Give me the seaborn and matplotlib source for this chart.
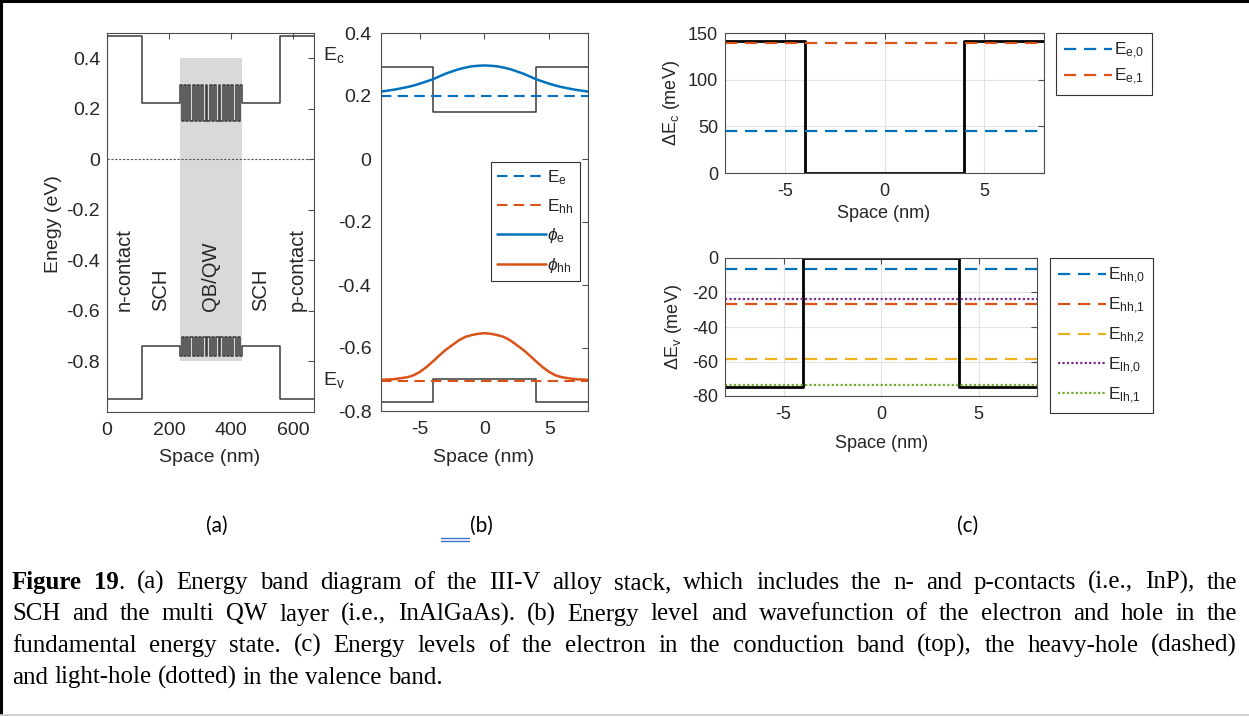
import numpy as np
import pandas as pd
import matplotlib
matplotlib.use("Agg")
import matplotlib.pyplot as plt
import seaborn as sns
from matplotlib.lines import Line2D

# ---------------- data ----------------
# (a) layer stack
stack_labels = ["n-contact", "SCH", "QB/QW", "SCH", "p-contact"]
stack_bounds_nm = [0, 113, 235, 435, 558, 668]
stack_ec_eV = [0.488, 0.222, None, 0.222, 0.488]
stack_ev_eV = [-0.948, -0.738, None, -0.738, -0.948]
qw_count = 14
qw_width_nm = 8.0
qb_width_nm = 5.87
qw_ec_eV, qb_ec_eV = 0.152, 0.296
qw_ev_eV, qb_ev_eV = -0.703, -0.780
shade_eV = (-0.8, 0.4)
a_xticks = [0, 200, 400, 600]
a_yticks = [-0.8, -0.6, -0.4, -0.2, 0, 0.2, 0.4]
a_yticklabels = ["-0.8", "-0.6", "-0.4", "-0.2", "0", "0.2", "0.4"]

# (b) single well, energy level and wavefunction
b_bounds_nm = [-8, -4, 4, 8]
b_ec_eV = [0.292, 0.150, 0.292]
b_ev_eV = [-0.772, -0.698, -0.772]
E_e_eV = 0.200
E_hh_eV = -0.704
psi_x_nm = [-8, -7.5, -7, -6.5, -6, -5.5, -5, -4.5, -4, -3.5, -3, -2.5, -2, -1.5, -1, -0.5, 0,
            0.5, 1, 1.5, 2, 2.5, 3, 3.5, 4, 4.5, 5, 5.5, 6, 6.5, 7, 7.5, 8]
phi_e = [0.214, 0.217, 0.220, 0.224, 0.228, 0.233, 0.239, 0.246, 0.253, 0.262, 0.271, 0.278,
         0.285, 0.290, 0.294, 0.296, 0.297,
         0.296, 0.294, 0.290, 0.285, 0.278, 0.271, 0.262, 0.253, 0.246, 0.239, 0.233, 0.228,
         0.224, 0.220, 0.217, 0.214]
phi_hh = [-0.701, -0.700, -0.699, -0.696, -0.693, -0.687, -0.676, -0.661, -0.643, -0.624,
          -0.606, -0.591, -0.576, -0.565, -0.559, -0.555, -0.553,
          -0.555, -0.559, -0.565, -0.576, -0.591, -0.606, -0.624, -0.643, -0.661, -0.676,
          -0.687, -0.693, -0.696, -0.699, -0.700, -0.701]
b_yticks = [-0.8, -0.6, -0.4, -0.2, 0, 0.2, 0.4]
b_yticklabels = ["-0.8", "-0.6", "-0.4", "-0.2", "0", "0.2", "0.4"]
b_xticks = [-5, 0, 5]

# (c) band offsets and confined levels (meV)
c_bounds_nm = [-8, -4, 4, 8]
dEc_meV = [141, 0, 141]
dEv_meV = [-74.5, 0, -74.5]
ce_levels = [45.5, 139.8]
ce_names = [r"E$_{\mathregular{e{,}0}}$", r"E$_{\mathregular{e{,}1}}$"]
cv_levels = [-6.4, -26.9, -58.4, -24.0, -73.6]
cv_names = [r"E$_{\mathregular{hh{,}0}}$", r"E$_{\mathregular{hh{,}1}}$",
            r"E$_{\mathregular{hh{,}2}}$", r"E$_{\mathregular{lh{,}0}}$",
            r"E$_{\mathregular{lh{,}1}}$"]
cv_kind = ["dashed", "dashed", "dashed", "dotted", "dotted"]
c_top_yticks = [0, 50, 100, 150]
c_bot_yticks = [-80, -60, -40, -20, 0]
c_xticks = [-5, 0, 5]

caption_lines = [
    "**Figure 19**. (a) Energy band diagram of the III-V alloy stack, which includes the n- and p-contacts (i.e., InP), the",
    "SCH and the multi QW layer (i.e., InAlGaAs). (b) Energy level and wavefunction of the electron and hole in the",
    "fundamental energy state. (c) Energy levels of the electron in the conduction band (top), the heavy-hole (dashed)",
    "and light-hole (dotted) in the valence band.",
]
panel_tags = ["(a)", "(b)", "(c)"]

# ---------------- style ----------------
BLUE, ORANGE, YELLOW, PURPLE, GREEN = "#0072BD", "#D95319", "#EDB120", "#7E2F8E", "#77AC30"
sns.set_theme(style="white")
plt.rcParams["font.family"] = ["Liberation Sans", "DejaVu Sans"]
plt.rcParams["mathtext.fontset"] = "custom"
plt.rcParams["mathtext.rm"] = "Liberation Sans"
plt.rcParams["mathtext.it"] = "Liberation Sans:italic"
plt.rcParams["axes.unicode_minus"] = False
TXT = "#262626"
SPINE = "#4d4d4d"

W, H = 1249, 717
fig = plt.figure(figsize=(W / 100, H / 100), dpi=100)
fig.patch.set_facecolor("white")


def rect(l, t, r, b):
    return [l / W, 1 - b / H, (r - l) / W, (b - t) / H]


def steps(bounds, values):
    xs, ys = [], []
    for i, v in enumerate(values):
        xs += [bounds[i], bounds[i + 1]]
        ys += [v, v]
    return xs, ys


def style_axes(ax, fs):
    for s in ax.spines.values():
        s.set_color(SPINE)
        s.set_linewidth(0.8)
        s.set_visible(True)
    ax.tick_params(direction="in", top=True, right=True, length=4, width=0.8,
                   color=SPINE, labelcolor=TXT, labelsize=fs)
    ax.tick_params(axis="x", pad=7)
    ax.tick_params(axis="y", pad=5)


def place_labels(ax, box, xl=None, yl=None):
    l, t, r, b = box
    if xl is not None:
        ax.xaxis.set_label_coords((xl[0] - l) / (r - l), (b - xl[1]) / (b - t))
        ax.xaxis.label.set_verticalalignment("center")
    if yl is not None:
        ax.yaxis.set_label_coords((yl[0] - l) / (r - l), (b - yl[1]) / (b - t))
        ax.yaxis.label.set_verticalalignment("center")


def line(ax, xs, ys, **kw):
    sns.lineplot(x=xs, y=ys, ax=ax, sort=False, estimator=None, legend=False, **kw)
    return ax.lines[-1]


def mat_legend(ax, handles, labels, px, py, spacing, pad):
    leg = ax.legend(handles, labels, loc="upper left", bbox_to_anchor=(px / W, 1 - py / H),
                    bbox_transform=fig.transFigure, borderaxespad=0, fontsize=12.5,
                    handlelength=2.8, handletextpad=0.1, labelspacing=spacing, borderpad=pad,
                    fancybox=False, framealpha=1, edgecolor="#333333")
    leg.get_frame().set_linewidth(0.8)
    for t in leg.get_texts():
        t.set_color(TXT)
    return leg


# ---------------- (a) ----------------
box_a = (107, 33, 314, 412)
ax_a = fig.add_axes(rect(*box_a))
qw_edges = [stack_bounds_nm[2]]
qw_ec_vals, qw_ev_vals = [], []
for k in range(2 * qw_count + 1):
    barrier = (k % 2 == 0)
    qw_edges.append(qw_edges[-1] + (qb_width_nm if barrier else qw_width_nm))
    qw_ec_vals.append(qb_ec_eV if barrier else qw_ec_eV)
    qw_ev_vals.append(qb_ev_eV if barrier else qw_ev_eV)
qw_edges[-1] = stack_bounds_nm[3]

ec_b = stack_bounds_nm[:3] + qw_edges[1:-1] + stack_bounds_nm[3:]
ec_v = stack_ec_eV[:2] + qw_ec_vals + stack_ec_eV[3:]
ev_v = stack_ev_eV[:2] + qw_ev_vals + stack_ev_eV[3:]

ax_a.fill_between([stack_bounds_nm[2], stack_bounds_nm[3]], shade_eV[0], shade_eV[1],
                  color="#d9d9d9", lw=0, zorder=0)
ax_a.axhline(0, color="#555555", lw=0.8, ls=(0, (2, 1.5)), zorder=1)
xs, ys = steps(ec_b, ec_v)
line(ax_a, xs, ys, color="#3a3a3a", lw=1.1)
xs, ys = steps(ec_b, ev_v)
line(ax_a, xs, ys, color="#3a3a3a", lw=1.1)
for i, lab in enumerate(stack_labels):
    xm = 0.5 * (stack_bounds_nm[i] + stack_bounds_nm[i + 1])
    ax_a.text(xm, -0.6, lab, rotation=90, ha="center", va="bottom", fontsize=14.5, color=TXT)
ax_a.set_xlim(stack_bounds_nm[0], stack_bounds_nm[-1])
ax_a.set_ylim(-1.0, 0.5)
ax_a.set_xticks(a_xticks)
ax_a.set_yticks(a_yticks)
ax_a.set_yticklabels(a_yticklabels)
style_axes(ax_a, 14)
ax_a.set_xlabel("Space (nm)", fontsize=14, color=TXT)
ax_a.set_ylabel("Enegy (eV)", fontsize=14, color=TXT)
place_labels(ax_a, box_a, xl=(210, 458), yl=(53, 224))

# ---------------- (b) ----------------
box_b = (381, 33, 588, 411)
ax_b = fig.add_axes(rect(*box_b))
xs, ys = steps(b_bounds_nm, b_ec_eV)
line(ax_b, xs, ys, color="#3a3a3a", lw=1.1)
xs, ys = steps(b_bounds_nm, b_ev_eV)
line(ax_b, xs, ys, color="#3a3a3a", lw=1.1)
h1 = line(ax_b, [b_bounds_nm[0], b_bounds_nm[-1]], [E_e_eV, E_e_eV], color=BLUE, lw=1.5,
          linestyle=(0, (5, 3)))
h2 = line(ax_b, [b_bounds_nm[0], b_bounds_nm[-1]], [E_hh_eV, E_hh_eV], color=ORANGE, lw=1.5,
          linestyle=(0, (5, 3)))
h3 = line(ax_b, psi_x_nm, phi_e, color=BLUE, lw=1.8)
h4 = line(ax_b, psi_x_nm, phi_hh, color=ORANGE, lw=1.8)
ax_b.set_xlim(-8, 8)
ax_b.set_ylim(-0.8, 0.4)
ax_b.set_xticks(b_xticks)
ax_b.set_xticklabels([str(v) for v in b_xticks])
ax_b.set_yticks(b_yticks)
ax_b.set_yticklabels(b_yticklabels)
style_axes(ax_b, 14)
ax_b.tick_params(axis="y", pad=7)
ax_b.set_xlabel("Space (nm)", fontsize=14, color=TXT)
place_labels(ax_b, box_b, xl=(484, 458))
mat_legend(ax_b, [h1, h2, h3, h4],
           [r"E$_{\mathregular{e}}$", r"E$_{\mathregular{hh}}$",
            r"$\phi_{\mathregular{e}}$", r"$\phi_{\mathregular{hh}}$"],
           491, 162, 0.6, 0.35)
fig.text(323 / W, 1 - 55 / H, r"E$_{\mathregular{c}}$", fontsize=14, color=TXT,
         ha="left", va="center")
fig.text(323 / W, 1 - 380 / H, r"E$_{\mathregular{v}}$", fontsize=14, color=TXT,
         ha="left", va="center")

# ---------------- (c) top ----------------
box_ct = (725, 33, 1044, 173)
ax_ct = fig.add_axes(rect(*box_ct))
ax_ct.grid(True, color="#e3e3e3", lw=0.8)
ax_ct.set_axisbelow(True)
xs, ys = steps(c_bounds_nm, dEc_meV)
line(ax_ct, xs, ys, color="black", lw=2.0)
hs = []
for lvl, col in zip(ce_levels, [BLUE, ORANGE]):
    hs.append(line(ax_ct, [c_bounds_nm[0], c_bounds_nm[-1]], [lvl, lvl], color=col, lw=1.6,
                   linestyle=(0, (5.5, 3.5))))
ax_ct.set_xlim(-8, 8)
ax_ct.set_ylim(0, 150)
ax_ct.set_xticks(c_xticks)
ax_ct.set_xticklabels([str(v) for v in c_xticks])
ax_ct.set_yticks(c_top_yticks)
style_axes(ax_ct, 13)
ax_ct.set_xlabel("Space (nm)", fontsize=13, color=TXT)
ax_ct.set_ylabel(r"ΔE$_{\mathregular{c}}$ (meV)", fontsize=13, color=TXT)
place_labels(ax_ct, box_ct, xl=(884, 214), yl=(672, 103))
mat_legend(ax_ct, hs, ce_names, 1056, 33, 0.35, 0.45)

# ---------------- (c) bottom ----------------
box_cb = (725, 258, 1037, 396)
ax_cb = fig.add_axes(rect(*box_cb))
ax_cb.grid(True, color="#e3e3e3", lw=0.8)
ax_cb.set_axisbelow(True)
xs, ys = steps(c_bounds_nm, dEv_meV)
line(ax_cb, xs, ys, color="black", lw=2.0)
hs = []
for lvl, col, kind in zip(cv_levels, [BLUE, ORANGE, YELLOW, PURPLE, GREEN], cv_kind):
    ls = (0, (5.5, 3.5)) if kind == "dashed" else (0, (1, 1))
    hs.append(line(ax_cb, [c_bounds_nm[0], c_bounds_nm[-1]], [lvl, lvl], color=col, lw=1.6,
                   linestyle=ls))
ax_cb.set_xlim(-8, 8)
ax_cb.set_ylim(-80, 0)
ax_cb.set_xticks(c_xticks)
ax_cb.set_xticklabels([str(v) for v in c_xticks])
ax_cb.set_yticks(c_bot_yticks)
ax_cb.set_yticklabels([str(v) for v in c_bot_yticks])
style_axes(ax_cb, 13)
ax_cb.set_xlabel("Space (nm)", fontsize=13, color=TXT)
ax_cb.set_ylabel(r"ΔE$_{\mathregular{v}}$ (meV)", fontsize=13, color=TXT)
place_labels(ax_cb, box_cb, xl=(882, 443), yl=(673, 327))
mat_legend(ax_cb, hs, cv_names, 1050, 258, 0.55, 0.45)

# ---------------- panel tags ----------------
for tag, px in zip(panel_tags, [217, 481, 968]):
    fig.text(px / W, 1 - 526 / H, tag, fontsize=15, family=["Lato", "DejaVu Sans"],
             color="black", ha="center", va="center")
for yy in [537.5, 540.5]:
    fig.add_artist(Line2D([441 / W, 469 / W], [1 - yy / H, 1 - yy / H], color="#4472C4",
                          lw=1.0, transform=fig.transFigure))

# ---------------- caption (justified) ----------------
renderer = fig.canvas.get_renderer()
CAP_L, CAP_R = 12, 1237
baselines = [589, 620.5, 652, 683.5]


def tokenize(s):
    words, cur, bold = [], [], False
    buf = ""
    i = 0
    while i < len(s):
        if s.startswith("**", i):
            if buf:
                cur.append((buf, bold)); buf = ""
            bold = not bold
            i += 2
            continue
        ch = s[i]
        if ch == " ":
            if buf:
                cur.append((buf, bold)); buf = ""
            if cur:
                words.append(cur); cur = []
        else:
            buf += ch
        i += 1
    if buf:
        cur.append((buf, bold))
    if cur:
        words.append(cur)
    return words


def measure(txt, bold, fs):
    t = fig.text(0, 0, txt, fontsize=fs, family=["Liberation Serif", "DejaVu Serif"],
                 fontweight="bold" if bold else "normal")
    w = t.get_window_extent(renderer).width
    t.remove()
    return w


tok_lines = [tokenize(s) for s in caption_lines]
base_fs = 12.0
sp = measure("a a", False, base_fs) - measure("aa", False, base_fs)
nat = []
for words in tok_lines[:3]:
    tot = sum(measure(txt, b, base_fs) for w in words for txt, b in w)
    nat.append(tot + sp * (len(words) - 1))
cap_fs = base_fs * (CAP_R - CAP_L) * 0.915 / max(nat)

space_w = measure("a a", False, cap_fs) - measure("aa", False, cap_fs)
for li, words in enumerate(tok_lines):
    widths = [[measure(txt, b, cap_fs) for txt, b in w] for w in words]
    total = sum(sum(ws) for ws in widths)
    if li < len(tok_lines) - 1:
        gap = (CAP_R - CAP_L - total) / (len(words) - 1)
    else:
        gap = space_w
    x = CAP_L
    for w, ws in zip(words, widths):
        for (txt, b), ww in zip(w, ws):
            fig.text(x / W, 1 - baselines[li] / H, txt, fontsize=cap_fs,
                     family=["Liberation Serif", "DejaVu Serif"],
                     fontweight="bold" if b else "normal", color="black",
                     ha="left", va="baseline")
            x += ww
        x += gap

# ---------------- frame ----------------
fig.add_artist(Line2D([0, 1], [1 - 1 / H, 1 - 1 / H], color="black", lw=2.2,
                      transform=fig.transFigure))
fig.add_artist(Line2D([1.2 / W, 1.2 / W], [1 - 713 / H, 1], color="black", lw=2.2,
                      transform=fig.transFigure))
fig.add_artist(Line2D([0, 1], [1 - 714.5 / H, 1 - 714.5 / H], color="#c8c8c8", lw=1.2,
                      transform=fig.transFigure))

fig.savefig("out.png", dpi=100)
